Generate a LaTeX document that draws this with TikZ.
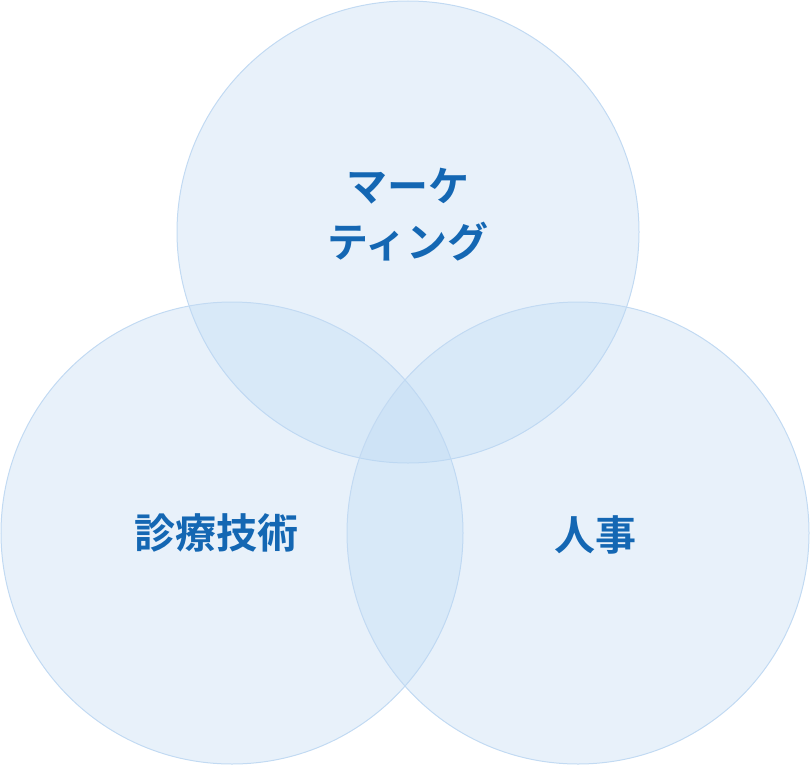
\documentclass[tikz,border=0pt]{standalone}
\usepackage{fontspec}
\newfontfamily\cjk{Noto Sans CJK JP Bold}
\definecolor{cfill}{HTML}{BCD8F2}
\definecolor{cedge}{HTML}{C2DAF2}
\definecolor{ctext}{HTML}{1467B3}
\begin{document}
\begin{tikzpicture}[x=1pt,y=-1pt,
  venn/.style={fill=cfill,fill opacity=0.35,draw=cedge,line width=1pt},
  lbl/.style={text=ctext,font=\cjk\fontsize{41}{56}\selectfont,align=center}]
\useasboundingbox (0,0) rectangle (810,768);
\path[venn] (408,232) circle (231);
\path[venn] (232,533) circle (231);
\path[venn] (578,533) circle (231);
\node[lbl] (m) at (408,215) {マーケ\\ティング};
\node[lbl] (s) at (216,533) {診療技術};
\node[lbl] (j) at (595,535) {人事};
\end{tikzpicture}
\end{document}
